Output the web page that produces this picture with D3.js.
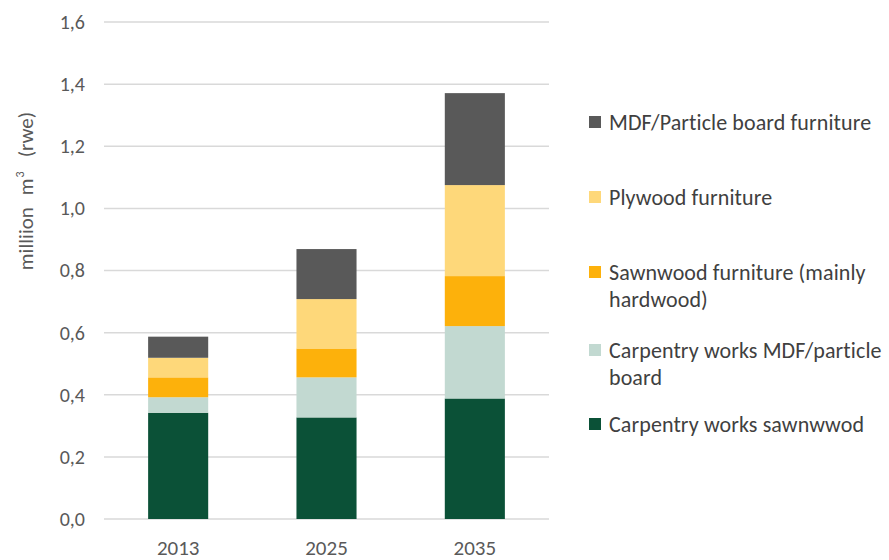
<!DOCTYPE html>
<html>
<head>
<meta charset="utf-8">
<script src="https://cdn.jsdelivr.net/npm/d3@7"></script>
<style>
  html, body { margin: 0; padding: 0; background: #fff; }
  svg { display: block; font-family: Carlito, Calibri, Lato, "Open Sans", sans-serif; }
</style>
</head>
<body>
<svg id="chart" width="889" height="560"></svg>
<script>
const years = ["2013", "2025", "2035"];
const seriesNames = [
  "Carpentry works sawnwwod",
  "Carpentry works MDF/particle board",
  "Sawnwood furniture (mainly hardwood)",
  "Plywood furniture",
  "MDF/Particle board furniture"
];
const carpentrySawnwood = [0.342, 0.327, 0.388];
const carpentryMDF = [0.050, 0.129, 0.233];
const sawnwoodFurniture = [0.064, 0.093, 0.161];
const plywoodFurniture = [0.063, 0.159, 0.293];
const mdfFurniture = [0.068, 0.161, 0.296];
const yTicks = [0, 0.2, 0.4, 0.6, 0.8, 1.0, 1.2, 1.4, 1.6];
const colors = ["#0b5137", "#c2d9d1", "#fdb10b", "#fed87a", "#595959"];

// legend: top to bottom, with wrapped lines
const legendItems = [
  { series: 4, lines: ["MDF/Particle board furniture"] },
  { series: 3, lines: ["Plywood furniture"] },
  { series: 2, lines: ["Sawnwood furniture (mainly", "hardwood)"] },
  { series: 1, lines: ["Carpentry works MDF/particle", "board"] },
  { series: 0, lines: ["Carpentry works sawnwwod"] }
];

const allSeries = [carpentrySawnwood, carpentryMDF, sawnwoodFurniture, plywoodFurniture, mdfFurniture];
const rows = years.map((y, i) => {
  const r = { year: y };
  seriesNames.forEach((n, k) => r[n] = allSeries[k][i]);
  return r;
});
const stacked = d3.stack().keys(seriesNames)(rows);

const svg = d3.select("#chart");
const plotLeft = 104, plotRight = 549, plotTop = 22, plotBottom = 519;

const x = d3.scaleBand().domain(years).range([plotLeft, plotRight])
  .paddingInner(0.595).paddingOuter(0.595 / 2);
const y = d3.scaleLinear().domain([0, 1.6]).range([plotBottom, plotTop]);

// gridlines
svg.append("g").selectAll("line").data(yTicks).join("line")
  .attr("x1", plotLeft).attr("x2", plotRight)
  .attr("y1", d => y(d)).attr("y2", d => y(d))
  .attr("stroke", "#d9d9d9").attr("stroke-width", 1.5);

// y axis labels
const fmt = d => d3.format(".1f")(d).replace(".", ",");
const yAxis = d3.axisLeft(y).tickValues(yTicks).tickFormat(fmt).tickSize(0).tickPadding(0);
const yg = svg.append("g").attr("transform", `translate(85,0)`).call(yAxis);
yg.select(".domain").remove();
yg.selectAll("text").attr("font-size", 20).attr("fill", "#595959")
  .attr("font-family", "Carlito, Calibri, Lato, sans-serif");

// bars
svg.append("g").selectAll("g").data(stacked).join("g")
  .attr("fill", (d, i) => colors[i])
  .selectAll("rect").data(d => d).join("rect")
  .attr("x", d => x(d.data.year))
  .attr("width", x.bandwidth())
  .attr("y", d => y(d[1]))
  .attr("height", d => y(d[0]) - y(d[1]));

// x axis labels
const xAxis = d3.axisBottom(x).tickSize(0).tickPadding(0);
const xg = svg.append("g").attr("transform", `translate(0,${plotBottom})`).call(xAxis);
xg.select(".domain").remove();
xg.selectAll("text").attr("font-size", 21).attr("fill", "#595959")
  .attr("dy", null).attr("y", 36)
  .attr("font-family", "Carlito, Calibri, Lato, sans-serif");

// y title
const title = svg.append("text")
  .attr("transform", "translate(33,191) rotate(-90)")
  .attr("text-anchor", "middle")
  .attr("font-size", 21).attr("fill", "#595959");
title.append("tspan").text("milliion");
title.append("tspan").attr("dx", 12).text("m");
title.append("tspan").attr("font-size", 12).attr("dy", -9).attr("dx", 1).text("3");
title.append("tspan").attr("dy", 9).attr("dx", 14).text("(rwe)");

// legend
const rowY = [122, 197, 272, 350, 424];
const lg = svg.append("g");
legendItems.forEach((item, i) => {
  const cy = rowY[i];
  lg.append("rect").attr("x", 589).attr("y", cy - 6).attr("width", 12).attr("height", 12)
    .attr("fill", colors[item.series]);
  item.lines.forEach((ln, j) => {
    lg.append("text").attr("x", 609).attr("y", cy + j * 27)
      .attr("dy", "0.35em").attr("font-size", 22).attr("letter-spacing", 0.1)
      .attr("fill", "#404040")
      .text(ln);
  });
});
</script>
</body>
</html>
